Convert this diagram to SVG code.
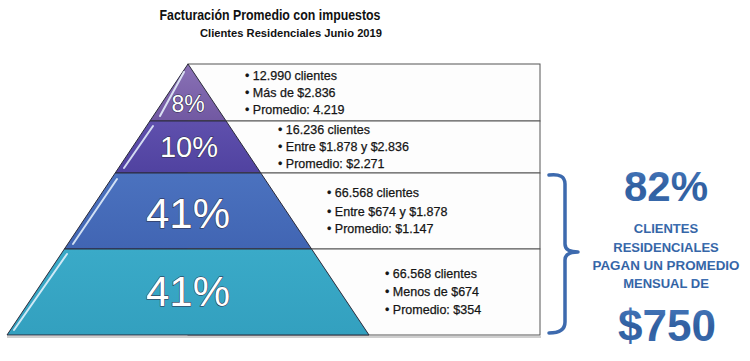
<svg xmlns="http://www.w3.org/2000/svg" width="750" height="361" viewBox="0 0 750 361">
<style>
.title{font-family:"Liberation Sans",Arial,sans-serif;font-weight:bold;fill:#111}
.box{fill:#fdfdfd;stroke:#555;stroke-width:1}
.layer{stroke:#2b2b3a;stroke-width:1}
.pct{font-family:"Liberation Sans",Arial,sans-serif;fill:#fff;stroke:#2a2a44;stroke-width:1;paint-order:stroke;text-anchor:middle}
.item{font-family:"Liberation Sans",Arial,sans-serif;font-size:12.5px;fill:#151515;stroke:#151515;stroke-width:0.25}
.hl{stroke:#eaf6ff;stroke-width:2;stroke-linecap:round;fill:none;opacity:0.85}
.sum{font-family:"Liberation Sans",Arial,sans-serif;font-weight:bold;fill:url(#gSum);text-anchor:middle}
.brace{fill:none;stroke:#3d6aae;stroke-width:3.5;stroke-linejoin:round;stroke-linecap:round}
</style>
<defs>
<linearGradient id="g1" x1="0" y1="0" x2="0" y2="1"><stop offset="0" stop-color="#8a72b6"/><stop offset="1" stop-color="#7158a2"/></linearGradient>
<linearGradient id="g2" x1="0" y1="0" x2="0" y2="1"><stop offset="0" stop-color="#5f50ad"/><stop offset="1" stop-color="#5042a0"/></linearGradient>
<linearGradient id="g3" x1="0" y1="0" x2="0" y2="1"><stop offset="0" stop-color="#4b72bf"/><stop offset="1" stop-color="#4165b3"/></linearGradient>
<linearGradient id="g4" x1="0" y1="0" x2="0" y2="1"><stop offset="0" stop-color="#3aaac8"/><stop offset="1" stop-color="#33a0bf"/></linearGradient>
<linearGradient id="gSum" x1="0" y1="0" x2="0" y2="1"><stop offset="0" stop-color="#4a7cc0"/><stop offset="0.55" stop-color="#2f5e9f"/><stop offset="1" stop-color="#3d6fb3"/></linearGradient>
</defs>
<rect width="750" height="361" fill="#fff"/>

<g id="title">
<text class="title" x="270" y="20" font-size="15" text-anchor="middle" textLength="221" lengthAdjust="spacingAndGlyphs">Facturación Promedio con impuestos</text>
<text class="title" x="291" y="37" font-size="11.5" text-anchor="middle" textLength="182" lengthAdjust="spacingAndGlyphs">Clientes Residenciales Junio 2019</text>
</g>

<line x1="7" y1="337" x2="541" y2="337" stroke="#cfcfcf" stroke-width="2"/>

<g id="tier-8">
<rect class="box" x="188" y="64" width="352" height="57"/>
<polygon class="layer" fill="url(#g1)" points="188,64 226.1,121 149.9,121"/>
<line class="hl" x1="160" y1="116" x2="184" y2="72"/>
<text class="pct" x="188" y="112" font-size="23">8%</text>
<text class="item" x="245" y="80">• 12.990 clientes</text>
<text class="item" x="245" y="97">• Más de $2.836</text>
<text class="item" x="245" y="114">• Promedio: 4.219</text>
</g>

<g id="tier-10">
<rect class="box" x="188" y="121" width="352" height="52"/>
<polygon class="layer" fill="url(#g2)" points="149.9,121 226.1,121 260.8,173 115.2,173"/>
<line class="hl" x1="124" y1="168" x2="153" y2="126"/>
<text class="pct" x="189" y="157" font-size="29">10%</text>
<text class="item" x="278" y="134">• 16.236 clientes</text>
<text class="item" x="278" y="151">• Entre $1.878 y $2.836</text>
<text class="item" x="278" y="168">• Promedio: $2.271</text>
</g>

<g id="tier-41a">
<rect class="box" x="188" y="173" width="352" height="76"/>
<polygon class="layer" fill="url(#g3)" points="115.2,173 260.8,173 311.6,249 64.4,249"/>
<line class="hl" x1="73" y1="244" x2="117" y2="179"/>
<text class="pct" x="188" y="228" font-size="42">41%</text>
<text class="item" x="327" y="197">• 66.568 clientes</text>
<text class="item" x="327" y="216">• Entre $674 y $1.878</text>
<text class="item" x="327" y="233">• Promedio: $1.147</text>
</g>

<g id="tier-41b">
<rect class="box" x="188" y="249" width="352" height="86"/>
<polygon class="layer" fill="url(#g4)" points="64.4,249 311.6,249 369,335 7,335"/>
<line class="hl" x1="14" y1="330" x2="67" y2="254"/>
<text class="pct" x="188" y="306" font-size="42">41%</text>
<text class="item" x="385" y="278">• 66.568 clientes</text>
<text class="item" x="385" y="296">• Menos de $674</text>
<text class="item" x="385" y="314">• Promedio: $354</text>
</g>

<g id="connectors">
<path class="brace" d="M549,175 Q565,173 565,184 L565,244 Q565,252 578,252 Q565,252 565,260 L565,322 Q565,333 549,333"/>
</g>

<g id="summary">
<text class="sum" x="666" y="201" font-size="42">82%</text>
<text class="sum" x="666" y="233" font-size="13">CLIENTES</text>
<text class="sum" x="666" y="252" font-size="13">RESIDENCIALES</text>
<text class="sum" x="666" y="270" font-size="13" textLength="147" lengthAdjust="spacingAndGlyphs">PAGAN UN PROMEDIO</text>
<text class="sum" x="666" y="288" font-size="13">MENSUAL DE</text>
<text class="sum" x="667" y="341" font-size="44">$750</text>
</g>
</svg>
